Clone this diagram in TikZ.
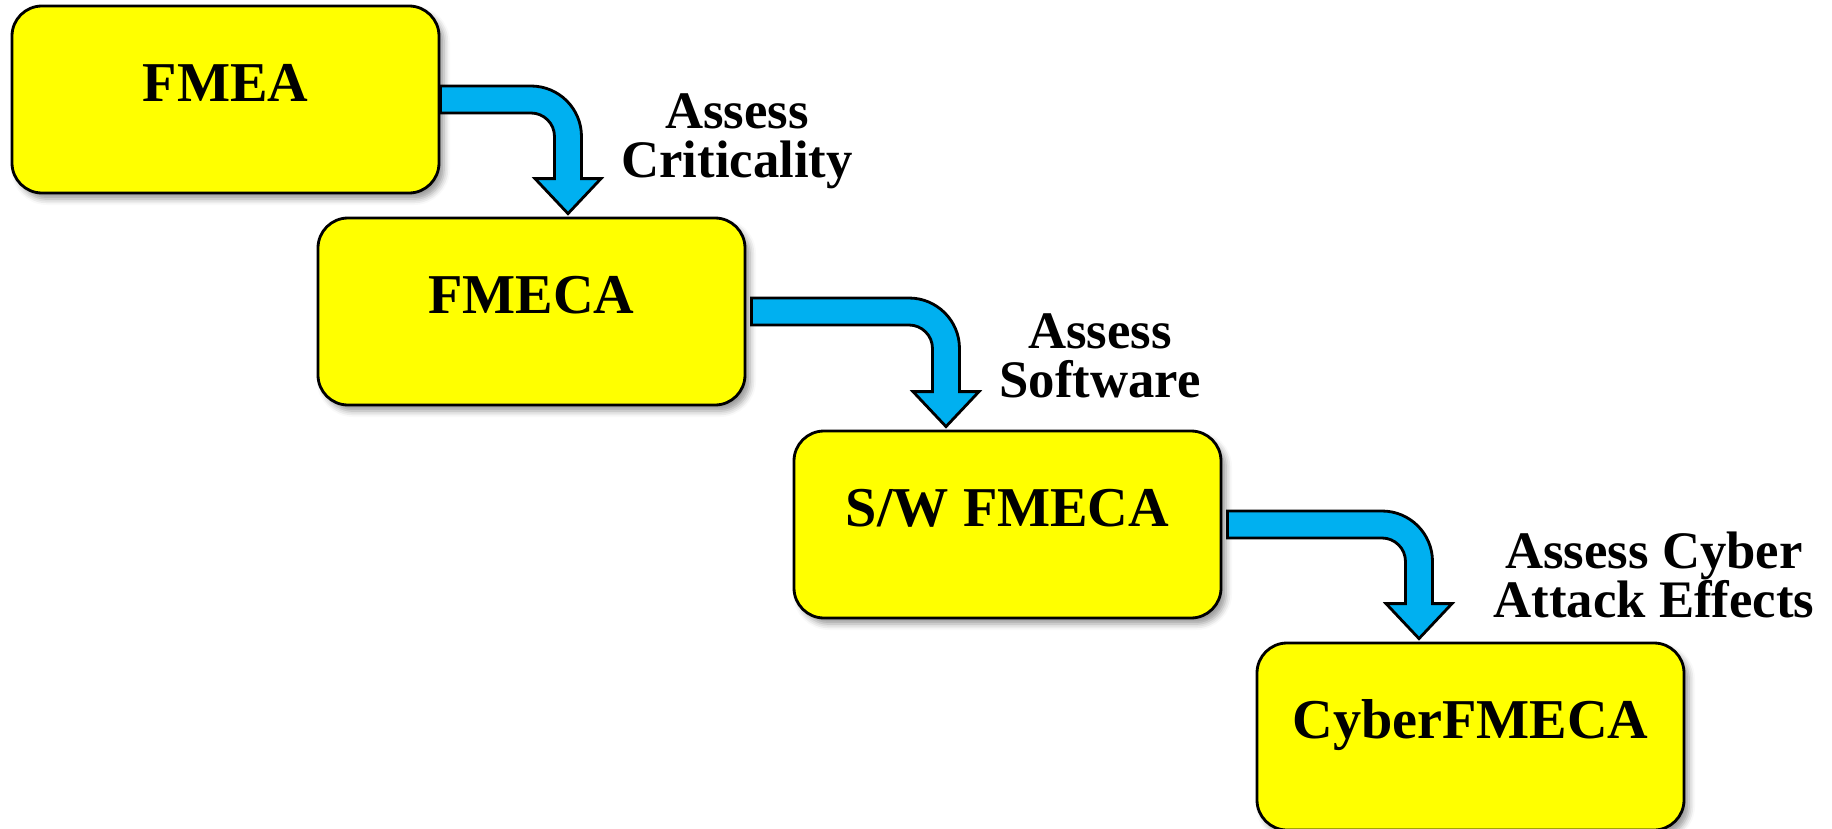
\documentclass[tikz,border=0pt]{standalone}
\usepackage{fontspec}
\setmainfont{Liberation Serif}
\usetikzlibrary{calc,shadows.blur}
\definecolor{boxyellow}{HTML}{FFFF00}
\definecolor{arrowblue}{HTML}{00B0F0}
\def\aw{0.135cm}\def\ah{0.33cm}\def\al{0.35cm}\def\ar{0.37cm}
\newcommand\bendarrow[2]{%
  \path (#1) coordinate (s) (#2) coordinate (t) (s -| t) coordinate (k);
  \filldraw[arrowbody] ([yshift=\aw]s) -- ([xshift=-\ar,yshift=\aw]k)
    arc[start angle=90,end angle=0,radius=\ar+\aw]
    -- ([xshift=\aw,yshift=\al]t) -- ([xshift=\ah,yshift=\al]t) -- (t)
    -- ([xshift=-\ah,yshift=\al]t) -- ([xshift=-\aw,yshift=\al]t)
    -- ([xshift=-\aw,yshift=-\ar]k)
    arc[start angle=0,end angle=90,radius=\ar-\aw]
    -- ([yshift=-\aw]s) -- cycle;}

\begin{document}
\begin{tikzpicture}[
    box/.style={draw, line width=0.8pt, fill=boxyellow, rounded corners=0.3cm,
      minimum width=4.27cm, minimum height=1.87cm, inner sep=0pt,
      text height=0.6cm, text depth=0.57cm,
      font=\fontsize{16}{19}\selectfont\bfseries,
      blur shadow={shadow xshift=0.05cm, shadow yshift=-0.06cm, shadow blur radius=0.06cm}},
    arrowbody/.style={fill=arrowblue, draw, line width=0.8pt},
    note/.style={align=center, anchor=base, font=\fontsize{15}{13.9}\selectfont\bfseries}]
    \useasboundingbox (0,0) rectangle (18.32,-8.28);

    \node[box] (fmea) at (2.255,-0.995) {FMEA};
    \node[box] (fmeca) at (5.315,-3.115) {FMECA};
    \node[box] (swfmeca) at (10.075,-5.245) {S/W FMECA};
    \node[box] (cyberfmeca) at (14.705,-7.365) {CyberFMECA};

    \bendarrow{fmea.east}{[xshift=0.365cm,yshift=0.03cm]fmeca.north}
    \bendarrow{[xshift=0.05cm]fmeca.east}{[xshift=-0.615cm,yshift=0.03cm]swfmeca.north}
    \bendarrow{[xshift=0.05cm]swfmeca.east}{[xshift=-0.515cm,yshift=0.03cm]cyberfmeca.north}

    \node[note] (crit) at (7.37,-1.77) {Assess\\Criticality};
    \node[note] (soft) at (11.00,-3.97) {Assess\\Software};
    \node[note] (cyber) at (16.54,-6.17) {Assess Cyber\\Attack Effects};
\end{tikzpicture}
\end{document}
